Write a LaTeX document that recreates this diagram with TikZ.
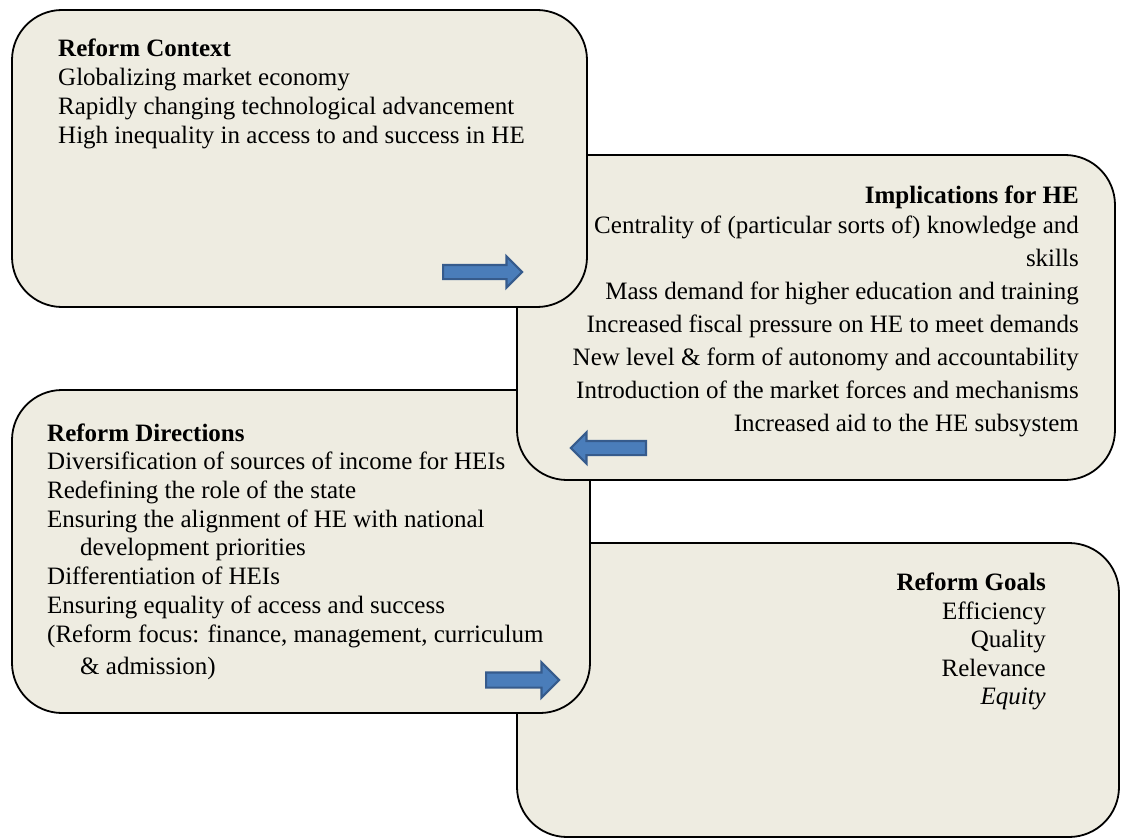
\documentclass[tikz,border=0pt]{standalone}
\usepackage{fontspec}
\setmainfont{Liberation Serif}
\usetikzlibrary{shapes.arrows}
\definecolor{paper}{HTML}{EEECE1}
\definecolor{arrowFill}{HTML}{4A7DBA}
\definecolor{arrowLine}{HTML}{365B8C}
\tikzset{
  panel/.style={draw=black, line width=1.8pt, fill=paper, rounded corners=50pt, inner sep=0pt},
  line/.style={inner sep=0pt, font=\fontsize{25}{30}\selectfont},
  blockarrow/.style={single arrow, fill=arrowFill, draw=arrowLine, line width=2.2pt,
    inner sep=6pt, minimum width=29pt, single arrow head extend=8.5pt, single arrow head indent=0pt},
}

\begin{document}
\begin{tikzpicture}[x=1pt,y=-1pt]
\useasboundingbox (0,0) rectangle (1122,840);

% panels, back to front
\node[panel, minimum width=602pt, minimum height=294pt] (goals) at (818,690) {};
\node[panel, minimum width=578pt, minimum height=323pt] (dirs) at (301,551.5) {};
\node[panel, minimum width=598pt, minimum height=325pt] (impl) at (816,317.5) {};
\node[panel, minimum width=575pt, minimum height=297pt] (ctx) at (299.5,158.5) {};

% reform context
\foreach \t [count=\i from 0] in {{\bfseries Reform Context}, Globalizing market economy,
    Rapidly changing technological advancement, High inequality in access to and success in HE} {
  \node[line, anchor=base west] (ctx-\i) at (58, 57+28.7*\i) {\t};
}

% implications
\foreach \y/\t [count=\i] in {203/{\bfseries Implications for HE}, 233/{Centrality of (particular sorts of) knowledge and},
    266/skills, 299/Mass demand for higher education and training, 332/Increased fiscal pressure on HE to meet demands,
    365/New level \& form of autonomy and accountability, 398/Introduction of the market forces and mechanisms,
    431/Increased aid to the HE subsystem} {
  \node[line, anchor=base east] (impl-\i) at (1079,\y) {\t};
}

% directions
\foreach \x/\y/\t [count=\i] in {47/441/{\bfseries Reform Directions}, 47/469.7/Diversification of sources of income for HEIs,
    47/498.4/Redefining the role of the state, 47/527/Ensuring the alignment of HE with national,
    80/555.8/development priorities, 47/584.5/Differentiation of HEIs,
    47/613/Ensuring equality of access and success, 47/642/{(Reform focus: finance, management, curriculum},
    80/674/\& admission)} {
  \node[line, anchor=base west] (dirs-\i) at (\x,\y) {\t};
}

% goals
\foreach \y/\t [count=\i] in {590/{\bfseries Reform Goals}, 619/Efficiency, 647/Quality, 676/Relevance, 704/{\itshape Equity}} {
  \node[line, anchor=base east] (goals-\i) at (1046,\y) {\t};
}

% block arrows
\node[blockarrow, anchor=tail, minimum height=79pt] (toImpl) at (442,272) {};
\node[blockarrow, anchor=tail, minimum height=75pt, shape border rotate=180] (toDirs) at (647,448) {};
\node[blockarrow, anchor=tail, minimum height=73pt, minimum width=33pt, inner sep=6.5pt,
  single arrow head extend=10pt] (toGoals) at (485,680) {};
\end{tikzpicture}
\end{document}
